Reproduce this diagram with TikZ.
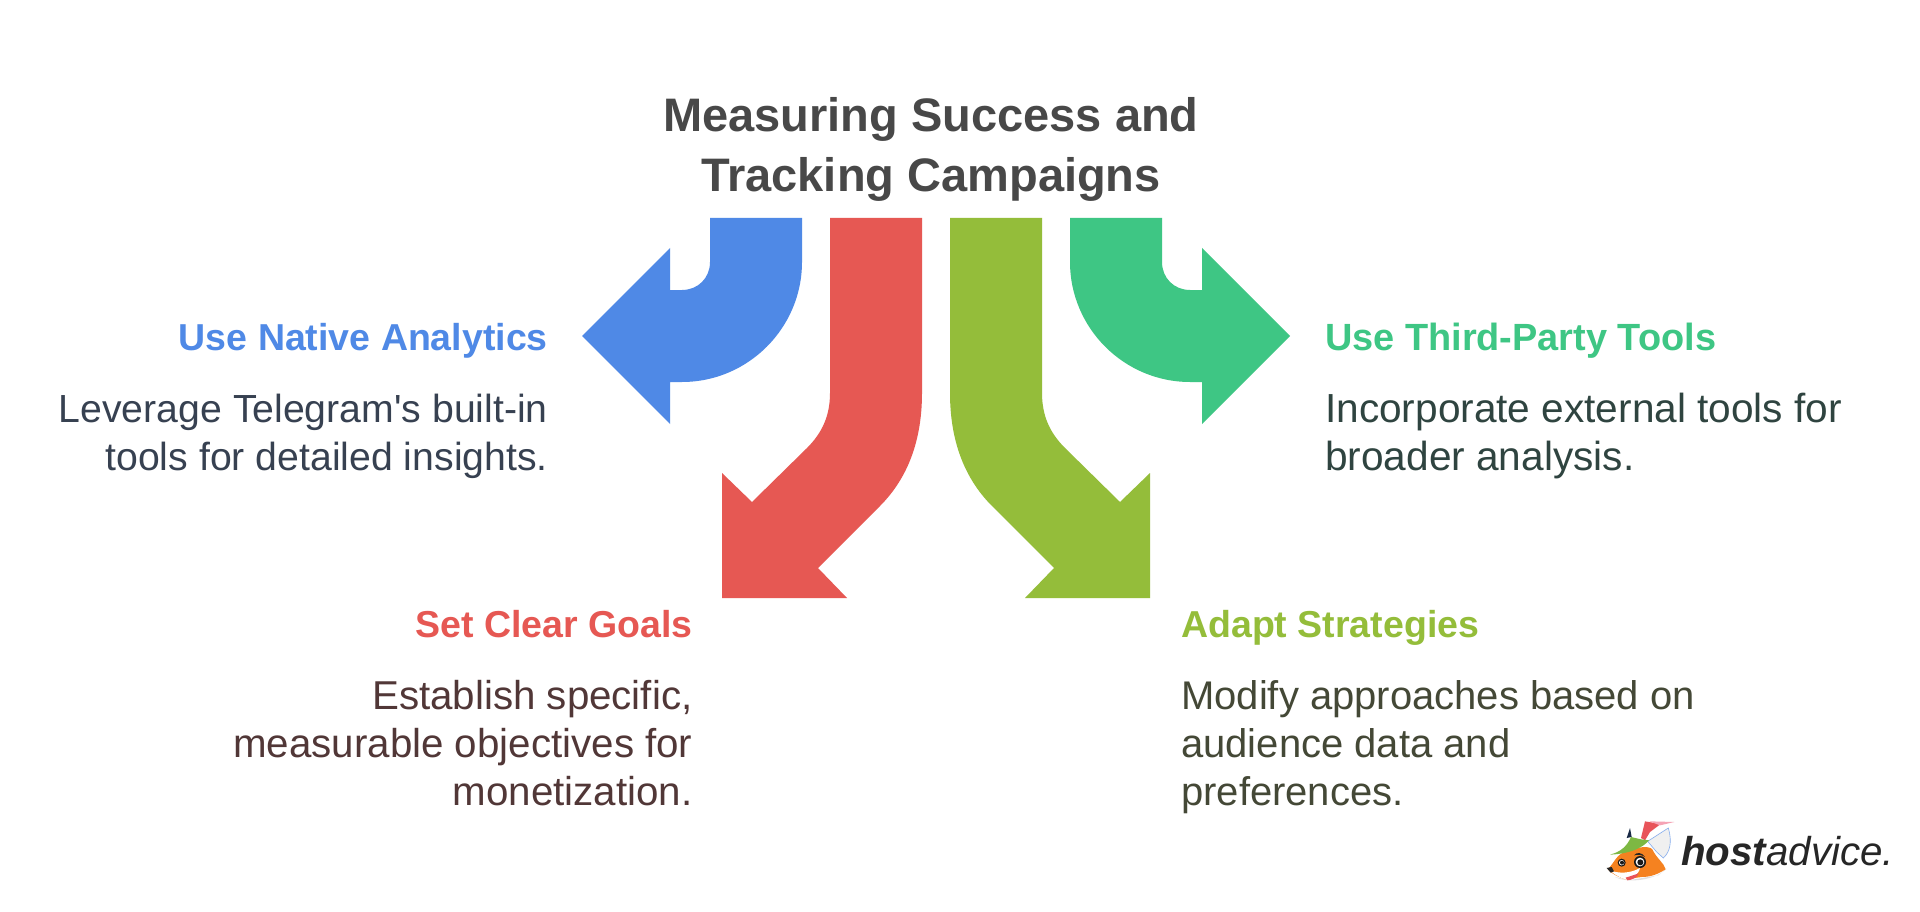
\documentclass[tikz,border=0pt]{standalone}
\usepackage{fontspec}
\newfontfamily\dgfont{Liberation Sans}
\definecolor{cblue}{HTML}{4F89E6}
\definecolor{cred}{HTML}{E65853}
\definecolor{cgreen}{HTML}{94BD3A}
\definecolor{cteal}{HTML}{3EC684}
\definecolor{ctitle}{HTML}{484848}
\definecolor{tblue}{HTML}{374151}
\definecolor{tred}{HTML}{513737}
\definecolor{tgreen}{HTML}{444836}
\definecolor{tteal}{HTML}{2F4440}
\definecolor{foxorange}{HTML}{F58220}
\definecolor{foxgreen}{HTML}{7DB843}
\definecolor{foxred}{HTML}{E8545A}
\definecolor{foxpink}{HTML}{F5A3B5}
\tikzset{x=1pt,y=-1pt,
 heading/.style={font=\dgfont\fontsize{#1}{48}\selectfont\bfseries,inner sep=0pt},
 heading/.default=37.5,
 body/.style={font=\dgfont\fontsize{#1}{48}\selectfont,inner sep=0pt},
 body/.default=40,
 lefttxt/.style={anchor=base east,align=right},
 righttxt/.style={anchor=base west,align=left},
 arrowshape/.style={draw=none}}
\begin{document}
\begin{tikzpicture}
\useasboundingbox (0,0) rectangle (1920,912);
\fill[white] (0,0) rectangle (1920,912);
% arrows
\fill[cblue,arrowshape] (710,218) -- (710,262) .. controls (710,278) and (698,290) .. (682,290) -- (670,290) -- (670,248) -- (582,336) -- (670,424) -- (670,382) -- (682,382) .. controls (748,382) and (802,328) .. (802,262) -- (802,218) -- cycle;
\fill[cred,arrowshape] (830,218) -- (830,393) .. controls (830,416) and (822,433) .. (807,448) -- (752,502) -- (722,473) -- (722,598) -- (847,598) -- (818,568) -- (880,506) .. controls (908,478) and (922,440) .. (922,393) -- (922,218) -- cycle;
\fill[cgreen,arrowshape] (1042,218) -- (1042,393) .. controls (1042,416) and (1050,433) .. (1065,448) -- (1120,502) -- (1150,473) -- (1150,598) -- (1025,598) -- (1054,568) -- (992,506) .. controls (964,478) and (950,440) .. (950,393) -- (950,218) -- cycle;
\fill[cteal,arrowshape] (1162,218) -- (1162,262) .. controls (1162,278) and (1174,290) .. (1190,290) -- (1202,290) -- (1202,248) -- (1290,336) -- (1202,424) -- (1202,382) -- (1190,382) .. controls (1124,382) and (1070,328) .. (1070,262) -- (1070,218) -- cycle;
% texts
\node[font=\dgfont\fontsize{47}{60}\selectfont\bfseries,text=ctitle,align=center,inner sep=0pt,anchor=base] (title) at (931,192) {Measuring Success and\\Tracking Campaigns};
\node[heading,lefttxt,text=cblue] (h1) at (548,350) {Use Native Analytics};
\node[body=39.2,lefttxt,text=tblue] (b1) at (548,470) {Leverage Telegram\symbol{39}s built-in\\tools for detailed insights.};
\node[heading=37.9,righttxt,text=cteal] (h2) at (1325,350) {Use Third-Party Tools};
\node[body=40.6,righttxt,text=tteal] (b2) at (1325,470) {Incorporate external tools for\\broader analysis.};
\node[heading,lefttxt,text=cred] (h3) at (692.7,637) {Set Clear Goals};
\node[body=40.3,lefttxt,text=tred] (b3) at (692.7,805) {Establish specific,\\measurable objectives for\\monetization.};
\node[heading,righttxt,text=cgreen] (h4) at (1181,637) {Adapt Strategies};
\node[body,righttxt,text=tgreen] (b4) at (1181,805) {Modify approaches based on\\audience data and\\preferences.};
% logo
\node[font=\dgfont\fontsize{40.3}{41}\selectfont\itshape,text=black!85,inner sep=0pt,anchor=base west] (logo) at (1681,865) {\bfseries host\mdseries advice.};
\begin{scope}[shift={(1595,812)},x=0.3333pt,y=-0.3333pt]
 \fill[black!12] (60,195) .. controls (100,215) and (180,205) .. (215,170) -- (190,190) -- (100,205) -- cycle;
 \fill[black!6,draw=cblue!70,line width=.6pt] (158,88) -- (220,48) .. controls (232,90) and (225,120) .. (205,138) -- (185,120) -- cycle;
 \fill[black!70!cblue] (95,78) -- (105,48) -- (110,75) -- cycle;
 \fill[foxorange] (38,172) .. controls (60,150) and (65,125) .. (95,118) .. controls (130,105) and (160,100) .. (172,112) .. controls (185,140) and (205,150) .. (212,172) .. controls (190,185) and (170,195) .. (140,195) -- (90,202) .. controls (70,195) and (50,185) .. (38,172) -- cycle;
 \fill[white] (45,175) .. controls (70,185) and (105,185) .. (135,168) .. controls (130,190) and (110,200) .. (90,202) .. controls (70,195) and (55,185) .. (45,175) -- cycle;
 \fill[black!85] (35,168) -- (50,165) -- (57,178) -- (47,182) -- cycle;
 \fill[foxred] (92,197) -- (132,184) .. controls (125,198) and (110,204) .. (97,205) -- cycle;
 \fill[black!90] (80,152) circle [radius=12];
 \fill[white] (80,152) circle [radius=8];
 \fill[black!90] (81,152) circle [radius=6];
 \fill[black!90] (135,150) circle [radius=18];
 \fill[white] (135,150) circle [radius=13];
 \fill[black!90] (136,151) circle [radius=9];
 \fill[black!85] (117,130) .. controls (125,120) and (140,120) .. (150,135) .. controls (140,128) and (128,127) .. (117,130) -- cycle;
 \fill[foxred] (138,78) -- (150,28) -- (197,36) -- (165,60) -- (150,85) -- cycle;
 \fill[foxpink] (163,28) -- (238,30) -- (195,40) -- cycle;
 \fill[foxgreen] (45,128) .. controls (75,120) and (95,105) .. (108,75) -- (138,82) -- (162,85) .. controls (145,105) and (110,125) .. (45,128) -- cycle;
\end{scope}
\end{tikzpicture}
\end{document}
